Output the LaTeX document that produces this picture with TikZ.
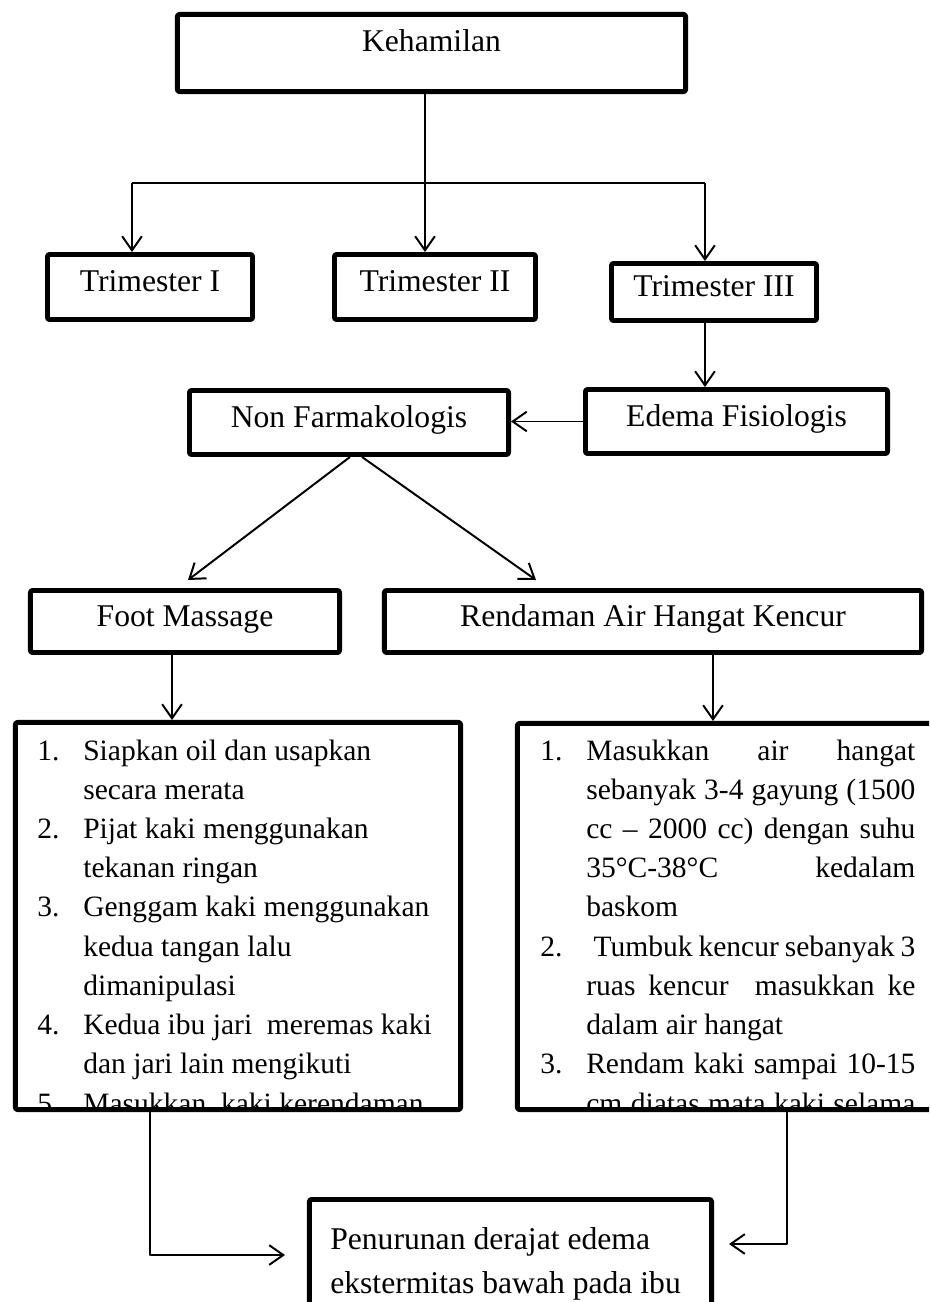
\documentclass[tikz,border=0pt]{standalone}
\usepackage{fontspec}
\setmainfont{Liberation Serif}
\usetikzlibrary{arrows.meta}
\newcommand{\jline}[1]{\makebox[\linewidth][s]{#1}}
\tikzset{
  box/.style={draw,line width=3.5pt,rounded corners=1.5pt,inner sep=0pt,
    text height=0.75em,text depth=0.05em,font=\fontsize{22.5}{27}\selectfont},
  steps/.style={inner sep=0pt,font=\fontsize{21}{27.9}\selectfont},
  link/.style={line width=1.4pt}
}
\begin{document}
\begin{tikzpicture}[x=0.025cm,y=-0.025cm,>={Straight Barb[length=10pt,width=14pt]},line join=round]
  \useasboundingbox (0,0) rectangle (929,1302);
  \clip (0,0) rectangle (929,1302);
  \node[box,minimum width=12.7cm,minimum height=1.93cm,text depth=0.95em] (keh) at (431.5,53) {Kehamilan};
  \node[box,minimum width=5.125cm,minimum height=1.625cm] (trimI) at (150,287) {Trimester I};
  \node[box,minimum width=5.025cm,minimum height=1.625cm] (trimII) at (435,287) {Trimester II};
  \node[box,minimum width=5.125cm,minimum height=1.425cm] (trimIII) at (714,292) {Trimester III};
  \node[box,minimum width=7.55cm,minimum height=1.6cm] (edema) at (736.5,421.5) {Edema Fisiologis};
  \node[box,minimum width=7.975cm,minimum height=1.6cm] (nonfarm) at (349,422.5) {Non Farmakologis};
  \node[box,minimum width=7.725cm,minimum height=1.55cm] (foot) at (185,621.5) {Foot Massage};
  \node[box,minimum width=13.425cm,minimum height=1.55cm] (rendam) at (653,621.5) {Rendaman Air Hangat Kencur};
  \node[box,minimum width=11.125cm,minimum height=9.675cm] (stepsA) at (238,916) {};
  \node[box,minimum width=10.75cm,minimum height=9.65cm] (stepsB) at (732.5,916.5) {};
  \node[box,minimum width=10.05cm,minimum height=3.95cm] (result) at (510.5,1278.5) {};

  \begin{scope}
    \clip ([shift={(3.5pt,3.5pt)}]stepsA.south west) rectangle ([shift={(-3.5pt,-3.5pt)}]stepsA.north east);
    \node[steps,anchor=base west] (listA) at (37,760) {\begin{tabular}[t]{@{}p{1.15cm}@{}l@{}}
      1. & Siapkan oil dan usapkan\\
         & secara merata\\
      2. & Pijat kaki menggunakan\\
         & tekanan ringan\\
      3. & Genggam kaki menggunakan\\
         & kedua tangan lalu\\
         & dimanipulasi\\
      4. & Kedua ibu jari\ \ meremas kaki\\
         & dan jari lain mengikuti\\
      5. & Masukkan\ \ kaki kerendaman
    \end{tabular}};
  \end{scope}
  \begin{scope}
    \clip ([shift={(3.5pt,3.5pt)}]stepsB.south west) rectangle ([shift={(-3.5pt,-3.5pt)}]stepsB.north east);
    \node[steps,anchor=base west] (listB) at (540,760) {\begin{tabular}[t]{@{}p{1.15cm}@{}p{8.225cm}@{}}
      1. & \jline{Masukkan air hangat}\\
         & \jline{sebanyak 3-4 gayung (1500}\\
         & \jline{cc – 2000 cc) dengan suhu}\\
         & \jline{35°C-38°C kedalam}\\
         & baskom\\
      2. & \jline{\hspace*{0.25em}Tumbuk kencur sebanyak 3}\\
         & \jline{ruas kencur\ \ masukkan ke}\\
         & dalam air hangat\\
      3. & \jline{Rendam kaki sampai 10-15}\\
         & \jline{cm diatas mata kaki selama}
    \end{tabular}};
  \end{scope}
  \node[inner sep=0pt,anchor=base west,font=\fontsize{22.5}{31.3}\selectfont] (resulttext) at (330,1249)
    {\begin{tabular}[t]{@{}l@{}}Penurunan derajat edema\\ ekstermitas bawah pada ibu\end{tabular}};

  \coordinate (forkI) at (132,183);
  \coordinate (forkII) at (425,183);
  \coordinate (forkIII) at (705,183);
  \coordinate (tipA) at (188,580);
  \coordinate (tipB) at (536,580);
  \coordinate (dropA) at (172,0);
  \coordinate (dropB) at (713,0);
  \coordinate (outA) at (150,1255);
  \coordinate (outB) at (787,1244);
  \draw[link] (forkI) -- (forkIII);
  \draw[link,->] (forkII |- keh.south) -- (forkII |- trimII.north);
  \draw[link,->] (forkI) -- (forkI |- trimI.north);
  \draw[link,->] (forkIII) -- (forkIII |- trimIII.north);
  \draw[link,->] (forkIII |- trimIII.south) -- (forkIII |- edema.north);
  \draw[link,->] (edema.west) -- (edema.west -| nonfarm.east);
  \draw[link,->] ([xshift=0.025cm]nonfarm.south) -- (tipA);
  \draw[link,->] ([xshift=0.325cm]nonfarm.south) -- (tipB);
  \draw[link,->] (dropA |- foot.south) -- (dropA |- stepsA.north);
  \draw[link,->] (dropB |- rendam.south) -- (dropB |- stepsB.north);
  \draw[link,->,shorten >=0.55cm] (outA |- stepsA.south) -- (outA) -- (outA -| result.west);
  \draw[link,->,shorten >=0.375cm] (outB |- stepsB.south) -- (outB) -- (outB -| result.east);
\end{tikzpicture}
\end{document}
